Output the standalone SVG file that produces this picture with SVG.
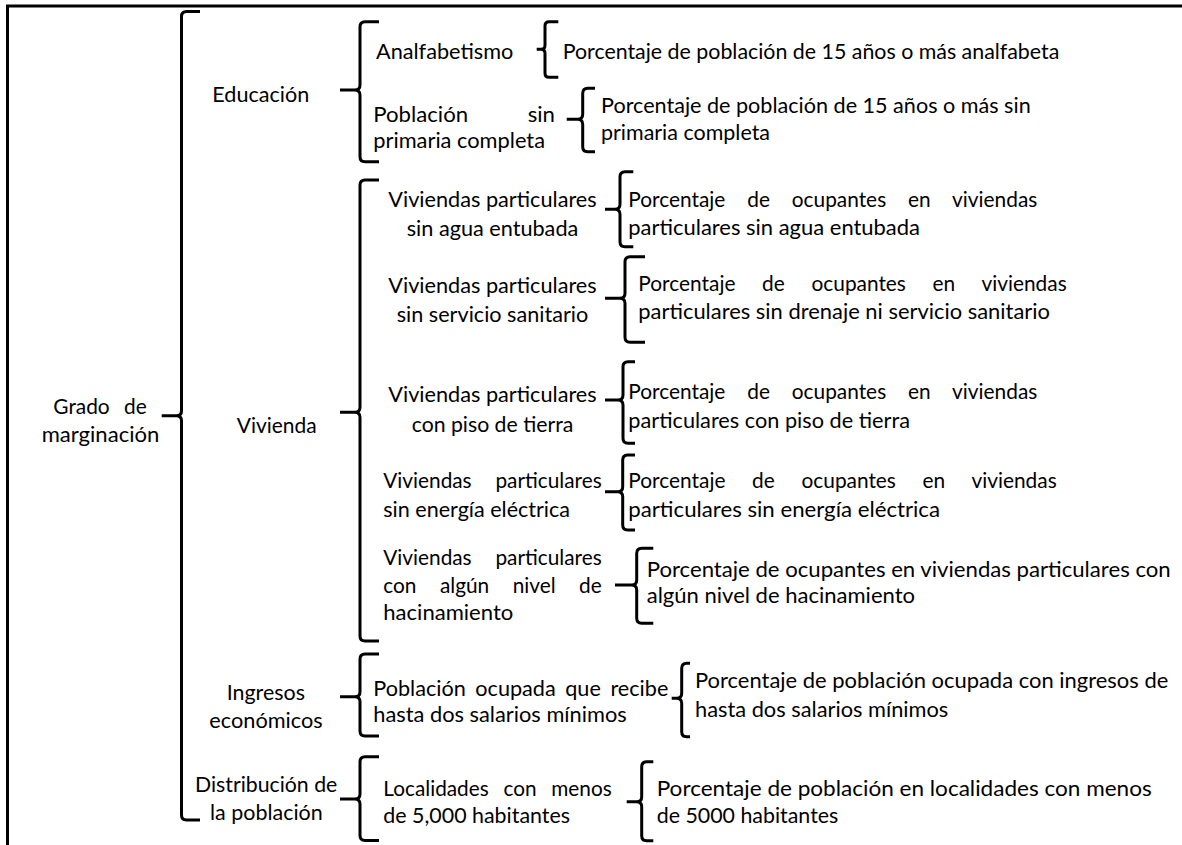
<svg xmlns="http://www.w3.org/2000/svg" width="1182" height="845" viewBox="0 0 1182 845">
<style>
  text { font-family: Lato, "Liberation Sans", sans-serif; font-size: 21px; fill: #000; }
  .br { fill: none; stroke: #000; stroke-width: 3; stroke-linecap: butt; stroke-linejoin: round; }
  .frame { fill: none; stroke: #000; stroke-width: 3; }
</style>
<rect width="1182" height="845" fill="#fff"/>
<g id="frame">
  <line class="frame" x1="6" y1="6" x2="1182" y2="6"/>
  <line class="frame" x1="7.5" y1="5" x2="7.5" y2="845"/>
</g>
<g id="connectors">
  <!-- level 0 -->
  <path class="br" d="M200,11.5 L186.5,11.5 Q181.5,11.5 181.5,16.5 L181.5,410.7 Q181.5,415.7 176.5,415.7 L161.7,415.7 M176.5,415.7 Q181.5,415.7 181.5,420.7 L181.5,815 Q181.5,820 186.5,820 L200,820"/>
  <!-- level 1 -->
  <path class="br" d="M379,21.7 L365,21.7 Q360,21.7 360,26.7 L360,85 Q360,90 355,90 L340,90 M355,90 Q360,90 360,95 L360,156.7 Q360,161.7 365,161.7 L379,161.7"/>
  <path class="br" d="M379,180 L365,180 Q360,180 360,185 L360,407.3 Q360,412.3 355,412.3 L340,412.3 M355,412.3 Q360,412.3 360,417.3 L360,636 Q360,641 365,641 L379,641"/>
  <path class="br" d="M379,654 L365,654 Q360,654 360,659 L360,691.7 Q360,696.7 355,696.7 L340,696.7 M355,696.7 Q360,696.7 360,701.7 L360,731 Q360,736 365,736 L379,736"/>
  <path class="br" d="M379,756.7 L365,756.7 Q360,756.7 360,761.7 L360,794 Q360,799 355,799 L340,799 M355,799 Q360,799 360,804 L360,835.5 Q360,840.5 365,840.5 L379,840.5"/>
  <!-- level 2 -->
  <path class="br" d="M558.3,21.7 L549,21.7 Q545,21.7 545,25.7 L545,45.3 Q545,49.3 541,49.3 L536.7,49.3 M541,49.3 Q545,49.3 545,53.3 L545,73.3 Q545,77.3 549,77.3 L558.3,77.3"/>
  <path class="br" d="M595,88.3 L587.7,88.3 Q582.7,88.3 582.7,93.3 L582.7,114.3 Q582.7,119.3 577.7,119.3 L566.7,119.3 M577.7,119.3 Q582.7,119.3 582.7,124.3 L582.7,146.7 Q582.7,151.7 587.7,151.7 L595,151.7"/>
  <path class="br" d="M633.3,171.7 L625,171.7 Q620,171.7 620,176.7 L620,204.3 Q620,209.3 615,209.3 L605,209.3 M615,209.3 Q620,209.3 620,214.3 L620,241.7 Q620,246.7 625,246.7 L633.3,246.7"/>
  <path class="br" d="M645,256.7 L630,256.7 Q625,256.7 625,261.7 L625,293.3 Q625,298.3 620,298.3 L605,298.3 M620,298.3 Q625,298.3 625,303.3 L625,337.3 Q625,342.3 630,342.3 L645,342.3"/>
  <path class="br" d="M635,361.7 L628,361.7 Q623,361.7 623,366.7 L623,395 Q623,400 618,400 L605,400 M618,400 Q623,400 623,405 L623,438.3 Q623,443.3 628,443.3 L635,443.3"/>
  <path class="br" d="M635,455 L627.7,455 Q622.7,455 622.7,460 L622.7,486.7 Q622.7,491.7 617.7,491.7 L605,491.7 M617.7,491.7 Q622.7,491.7 622.7,496.7 L622.7,525 Q622.7,530 627.7,530 L635,530"/>
  <path class="br" d="M653.3,548.3 L641.7,548.3 Q636.7,548.3 636.7,553.3 L636.7,580 Q636.7,585 631.7,585 L615,585 M631.7,585 Q636.7,585 636.7,590 L636.7,618.3 Q636.7,623.3 641.7,623.3 L653.3,623.3"/>
  <path class="br" d="M690,663.3 L686.7,663.3 Q681.7,663.3 681.7,668.3 L681.7,693.3 Q681.7,698.3 676.7,698.3 L671.7,698.3 M676.7,698.3 Q681.7,698.3 681.7,703.3 L681.7,731.7 Q681.7,736.7 686.7,736.7 L690,736.7"/>
  <path class="br" d="M653.3,761.7 L646.7,761.7 Q641.7,761.7 641.7,766.7 L641.7,796.7 Q641.7,801.7 636.7,801.7 L626.7,801.7 M636.7,801.7 Q641.7,801.7 641.7,806.7 L641.7,835.7 Q641.7,840.7 646.7,840.7 L653.3,840.7"/>
</g>
<g id="n-grado">
  <text x="53.3" y="414" textLength="93.4" lengthAdjust="spacingAndGlyphs" style="word-spacing:9px">Grado de</text>
  <text x="41.7" y="442.3" textLength="117.6" lengthAdjust="spacingAndGlyphs">marginación</text>
</g>
<g id="n-educacion">
  <text x="212.3" y="101.7" textLength="97" lengthAdjust="spacingAndGlyphs">Educación</text>
</g>
<g id="n-vivienda">
  <text x="236.7" y="432.7" textLength="80" lengthAdjust="spacingAndGlyphs">Vivienda</text>
</g>
<g id="n-ingresos">
  <text x="226.7" y="700" textLength="78.3" lengthAdjust="spacingAndGlyphs">Ingresos</text>
  <text x="209.3" y="728.3" textLength="113.4" lengthAdjust="spacingAndGlyphs">económicos</text>
</g>
<g id="n-distribucion">
  <text x="195" y="792.3" textLength="142.3" lengthAdjust="spacingAndGlyphs">Distribución de</text>
  <text x="210" y="820" textLength="112.7" lengthAdjust="spacingAndGlyphs">la población</text>
</g>
<g id="n-analfabetismo">
  <text x="376" y="58.7" textLength="137.3" lengthAdjust="spacingAndGlyphs">Analfabetismo</text>
</g>
<g id="n-sin-primaria">
  <text x="373.3" y="121.5" textLength="181.7" lengthAdjust="spacingAndGlyphs" style="word-spacing:51px">Población sin</text>
  <text x="373.3" y="148" textLength="171.7" lengthAdjust="spacingAndGlyphs">primaria completa</text>
</g>
<g id="n-agua">
  <text x="388.3" y="206.7" textLength="208.4" lengthAdjust="spacingAndGlyphs">Viviendas particulares</text>
  <text x="406.7" y="235.5" textLength="171.6" lengthAdjust="spacingAndGlyphs">sin agua entubada</text>
</g>
<g id="n-sanitario">
  <text x="388.3" y="293.3" textLength="208.4" lengthAdjust="spacingAndGlyphs">Viviendas particulares</text>
  <text x="396.7" y="321.7" textLength="191.6" lengthAdjust="spacingAndGlyphs">sin servicio sanitario</text>
</g>
<g id="n-piso">
  <text x="388.3" y="402" textLength="208.4" lengthAdjust="spacingAndGlyphs">Viviendas particulares</text>
  <text x="411.7" y="432" textLength="161.6" lengthAdjust="spacingAndGlyphs">con piso de tierra</text>
</g>
<g id="n-energia">
  <text x="383.3" y="488.3" textLength="218.4" lengthAdjust="spacingAndGlyphs" style="word-spacing:18.7px">Viviendas particulares</text>
  <text x="383.3" y="516.7" textLength="186.7" lengthAdjust="spacingAndGlyphs">sin energía eléctrica</text>
</g>
<g id="n-hacinamiento">
  <text x="383.3" y="565" textLength="218.4" lengthAdjust="spacingAndGlyphs" style="word-spacing:18.7px">Viviendas particulares</text>
  <text x="383.3" y="593.3" textLength="218.4" lengthAdjust="spacingAndGlyphs" style="word-spacing:18.3px">con algún nivel de</text>
  <text x="383.3" y="620" textLength="130" lengthAdjust="spacingAndGlyphs">hacinamiento</text>
</g>
<g id="n-ocupada">
  <text x="373.3" y="696" textLength="295" lengthAdjust="spacingAndGlyphs" style="word-spacing:3.9px">Población ocupada que recibe</text>
  <text x="373.3" y="722" textLength="253.4" lengthAdjust="spacingAndGlyphs">hasta dos salarios mínimos</text>
</g>
<g id="n-localidades">
  <text x="383.3" y="795.7" textLength="228.4" lengthAdjust="spacingAndGlyphs" style="word-spacing:9.5px">Localidades con menos</text>
  <text x="383.3" y="823.3" textLength="186.7" lengthAdjust="spacingAndGlyphs">de 5,000 habitantes</text>
</g>
<g id="n-p-analfabeta">
  <text x="562.7" y="58.7" textLength="496.6" lengthAdjust="spacingAndGlyphs">Porcentaje de población de 15 años o más analfabeta</text>
</g>
<g id="n-p-primaria">
  <text x="601" y="113" textLength="429.7" lengthAdjust="spacingAndGlyphs">Porcentaje de población de 15 años o más sin</text>
  <text x="601" y="140" textLength="169" lengthAdjust="spacingAndGlyphs">primaria completa</text>
</g>
<g id="n-p-agua">
  <text x="628.3" y="206.7" textLength="409" lengthAdjust="spacingAndGlyphs" style="word-spacing:16.7px">Porcentaje de ocupantes en viviendas</text>
  <text x="628.3" y="235" textLength="291.7" lengthAdjust="spacingAndGlyphs">particulares sin agua entubada</text>
</g>
<g id="n-p-drenaje">
  <text x="638.3" y="291" textLength="428.4" lengthAdjust="spacingAndGlyphs" style="word-spacing:21.5px">Porcentaje de ocupantes en viviendas</text>
  <text x="638.3" y="318.5" textLength="411.7" lengthAdjust="spacingAndGlyphs">particulares sin drenaje ni servicio sanitario</text>
</g>
<g id="n-p-piso">
  <text x="628.3" y="399" textLength="409" lengthAdjust="spacingAndGlyphs" style="word-spacing:16.7px">Porcentaje de ocupantes en viviendas</text>
  <text x="628.3" y="427.5" textLength="281.7" lengthAdjust="spacingAndGlyphs">particulares con piso de tierra</text>
</g>
<g id="n-p-energia">
  <text x="628.3" y="488.3" textLength="428.4" lengthAdjust="spacingAndGlyphs" style="word-spacing:21.5px">Porcentaje de ocupantes en viviendas</text>
  <text x="628.3" y="516.7" textLength="311.7" lengthAdjust="spacingAndGlyphs">particulares sin energía eléctrica</text>
</g>
<g id="n-p-hacinamiento">
  <text x="646.7" y="576.7" textLength="524" lengthAdjust="spacingAndGlyphs">Porcentaje de ocupantes en viviendas particulares con</text>
  <text x="646.7" y="603.3" textLength="268.3" lengthAdjust="spacingAndGlyphs">algún nivel de hacinamiento</text>
</g>
<g id="n-p-ingresos">
  <text x="695" y="688" textLength="473.3" lengthAdjust="spacingAndGlyphs">Porcentaje de población ocupada con ingresos de</text>
  <text x="695" y="717" textLength="253.3" lengthAdjust="spacingAndGlyphs">hasta dos salarios mínimos</text>
</g>
<g id="n-p-localidades">
  <text x="656.7" y="795.7" textLength="495" lengthAdjust="spacingAndGlyphs">Porcentaje de población en localidades con menos</text>
  <text x="656.7" y="823.3" textLength="181.6" lengthAdjust="spacingAndGlyphs">de 5000 habitantes</text>
</g>
</svg>
